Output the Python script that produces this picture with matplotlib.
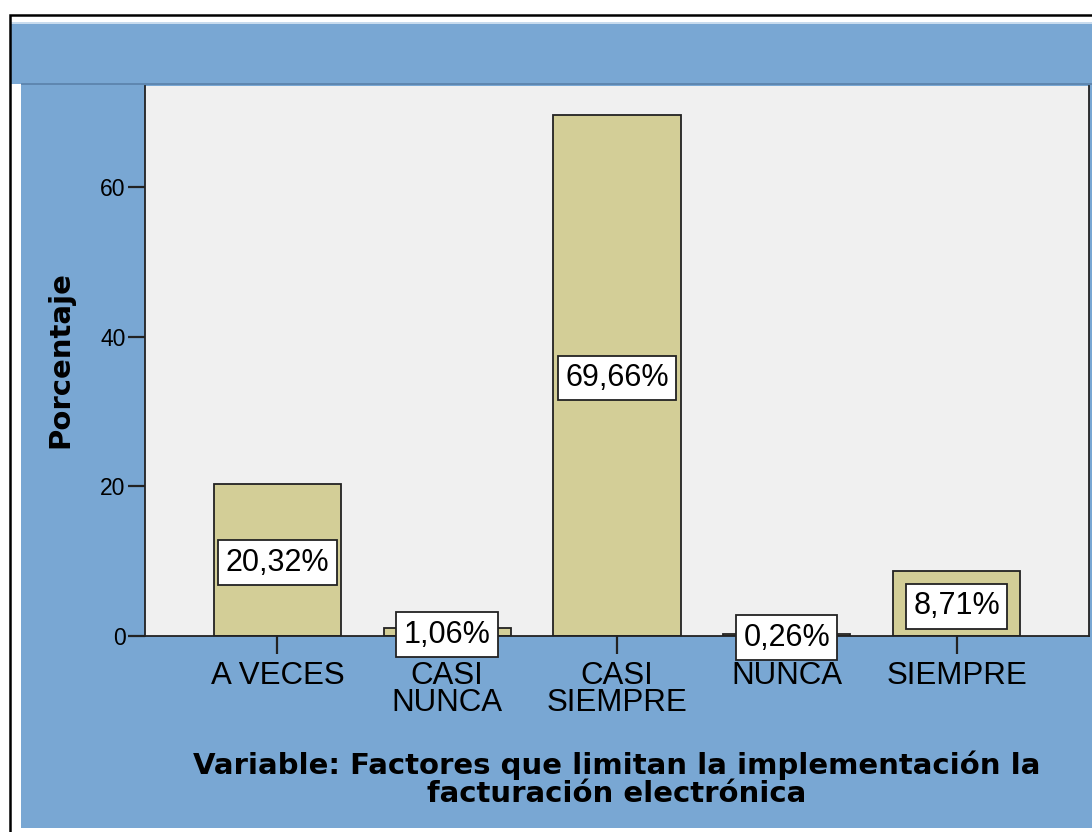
import matplotlib.pyplot as plt
from matplotlib.patches import Rectangle

# Datos del gráfico
categorias = ['A VECES', 'CASI\nNUNCA', 'CASI\nSIEMPRE', 'NUNCA', 'SIEMPRE']
porcentajes = [20.32, 1.06, 69.66, 0.26, 8.71]
etiquetas = ['20,32%', '1,06%', '69,66%', '0,26%', '8,71%']
ticks_y = [0, 20, 40, 60]

AZUL = '#79A7D3'
GRIS = '#F0F0F0'
BARRA = '#D3CE97'

plt.rcParams['font.family'] = ['Liberation Sans', 'DejaVu Sans']

W, H = 1092, 832
fig = plt.figure(figsize=(W / 100, H / 100), dpi=100)
fig.patch.set_facecolor('white')

# Fondo azul y marco negro (coordenadas en píxeles)
def px_rect(x0, y0, x1, y1, **kw):
    return Rectangle((x0 / W, 1 - y1 / H), (x1 - x0) / W, (y1 - y0) / H,
                     transform=fig.transFigure, zorder=-1, **kw)

fig.patches.append(px_rect(11, 22, W + 5, 84, facecolor=AZUL, edgecolor='none'))
fig.patches.append(px_rect(11, 22, W + 5, 24, facecolor='#C9DCEE', edgecolor='none'))
fig.patches.append(px_rect(21, 84, W + 5, 828, facecolor=AZUL, edgecolor='none'))
fig.patches.append(px_rect(21, 83, W + 5, 85, facecolor='#5F87B0', edgecolor='none'))
fig.patches.append(px_rect(10, 15, W + 20, H + 20, facecolor='none',
                           edgecolor='black', linewidth=1.8))

ax = fig.add_axes([145 / W, 1 - 636 / H, (1089 - 145) / W, (636 - 86) / H])
ax.set_zorder(2)
ax.set_facecolor(GRIS)

x = range(len(categorias))
ax.bar(x, porcentajes, width=0.75, color=BARRA, edgecolor='#222222', linewidth=1.3, zorder=2)

for i, (v, txt) in enumerate(zip(porcentajes, etiquetas)):
    ax.annotate(txt, (i, v / 2), xytext=(0, -2), textcoords='offset points',
                ha='center', va='center', fontsize=22, zorder=4,
                bbox=dict(boxstyle='square,pad=0.24', facecolor='white',
                          edgecolor='#222222', linewidth=1.3))

ax.set_xlim(-0.78, 4.78)
ax.set_ylim(0, 73.5)
ax.set_yticks(ticks_y)
ax.set_yticklabels([str(t) for t in ticks_y], fontsize=16.5)
ax.set_xticks(list(x))
ax.set_xticklabels(categorias, fontsize=22.5, linespacing=0.88)
ax.tick_params(axis='x', length=13, width=1.6, pad=5, color='#222222')
ax.tick_params(axis='y', length=12, width=1.6, pad=2, color='#222222')

ax.spines['top'].set_visible(False)
for s in ['left', 'bottom', 'right']:
    ax.spines[s].set_linewidth(1.3)
    ax.spines[s].set_color('#222222')
ax.spines['bottom'].set_zorder(3)

fig.text(60 / W, 1 - 360 / H, 'Porcentaje', rotation=90, ha='center', va='center',
         fontsize=21, fontweight='bold', family='DejaVu Sans')
fig.text(617 / W, 1 - 779 / H,
         'Variable: Factores que limitan la implementación la\nfacturación electrónica',
         ha='center', va='center', fontsize=21, fontweight='bold', linespacing=1.02,
         family='DejaVu Sans')

fig.savefig('out.png', dpi=100)
